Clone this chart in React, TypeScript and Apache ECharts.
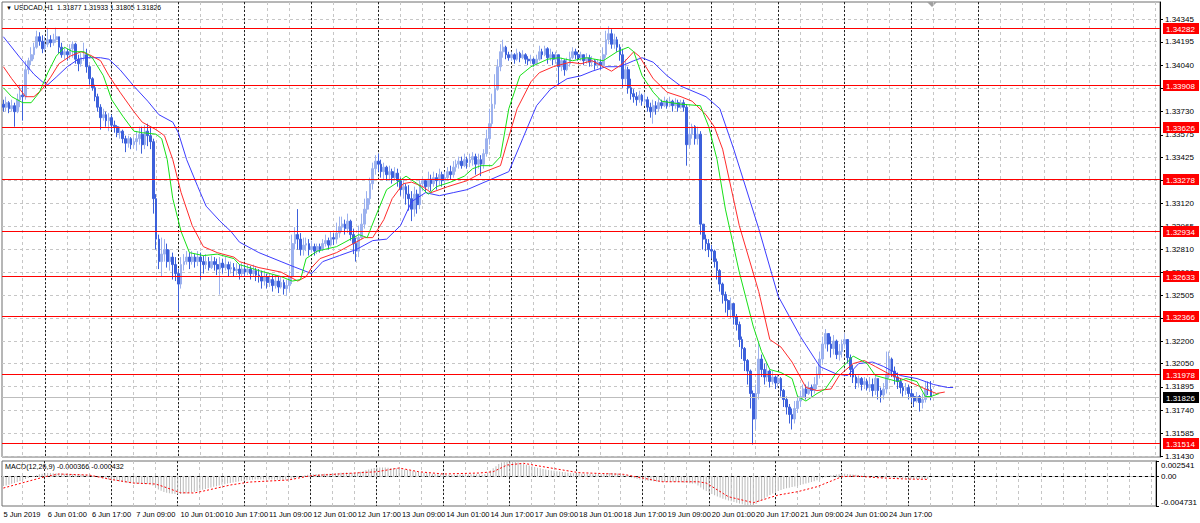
import React, { useEffect, useRef } from "react";
import * as echarts from "echarts";

const TITLE = "USDCAD,H1  1.31877 1.31933 1.31805 1.31826";
const MACD_TITLE = "MACD(12,26,9) -0.000366 -0.000432";
const FIRST_BAR_UTC = "2019-06-05T09:00:00Z";
const SLOT_COUNT = 417;
const MONTHS = ["Jan", "Feb", "Mar", "Apr", "May", "Jun", "Jul", "Aug", "Sep", "Oct", "Nov", "Dec"];

const TIME_LABELS = ["5 Jun 2019", "6 Jun 01:00", "6 Jun 17:00", "7 Jun 09:00", "10 Jun 01:00", "10 Jun 17:00", "11 Jun 09:00", "12 Jun 01:00", "12 Jun 17:00", "13 Jun 09:00", "14 Jun 01:00", "14 Jun 17:00", "17 Jun 09:00", "18 Jun 01:00", "18 Jun 17:00", "19 Jun 09:00", "20 Jun 01:00", "20 Jun 17:00", "21 Jun 09:00", "24 Jun 01:00", "24 Jun 17:00"];
const TIME_LABEL_STEP = 16;

const PRICE_TICKS = ["1.34345", "1.34195", "1.34040", "1.33885", "1.33730", "1.33575", "1.33425", "1.33270", "1.33120", "1.32965", "1.32810", "1.32660", "1.32505", "1.32350", "1.32200", "1.32050", "1.31895", "1.31740", "1.31585", "1.31430"];
const LEVELS = [1.34282, 1.33908, 1.33626, 1.33278, 1.32934, 1.32633, 1.32366, 1.31978, 1.31514];
const CURRENT_PRICE = 1.31826;

const MACD_TICKS = ["0.002541", "0.00", "-0.004731"];

// prices in pips above 1.3000
const PIP_BASE = 1.3;
const FIRST_OPEN = 378;
const CLOSE = [
  376, 379, 375, 377, 373, 381, 384, 383, 401, 407,
  411, 416, 423, 420, 415, 418, 421, 419, 421, 423,
  416, 411, 413, 411, 415, 418, 408, 405, 409, 411,
  403, 395, 389, 383, 376, 369, 371, 367, 369, 364,
  363, 359, 360, 355, 352, 355, 351, 353, 355, 358,
  351, 360, 357, 353, 315, 288, 273, 278, 281, 273,
  276, 271, 265, 258, 271, 273, 276, 273, 276, 273,
  276, 273, 271, 273, 269, 273, 271, 268, 272, 269,
  271, 268, 269, 267, 268, 265, 268, 266, 268, 265,
  267, 264, 263, 260, 263, 259, 261, 257, 260, 256,
  259, 255, 257, 263, 285, 291, 288, 281, 284, 285,
  281, 283, 280, 283, 281, 285, 287, 284, 289, 288,
  292, 296, 298, 295, 300, 291, 285, 280, 289, 298,
  308, 315, 325, 335, 340, 338, 333, 336, 331, 333,
  329, 332, 327, 321, 323, 318, 315, 308, 318, 311,
  325, 327, 323, 328, 325, 329, 327, 331, 327, 329,
  333, 331, 336, 338, 340, 337, 341, 339, 341, 343,
  338, 341, 338, 345, 355, 365, 378, 388, 403, 413,
  416, 411, 409, 411, 408, 412, 409, 411, 408, 407,
  408, 405, 408, 413, 411, 415, 409, 411, 408, 411,
  403, 407, 401, 405, 409, 413, 411, 409, 411, 407,
  409, 406, 407, 404, 406, 404, 411, 421, 425, 418,
  421, 416, 411, 395, 401, 389, 385, 383, 381, 384,
  380, 381, 376, 373, 377, 375, 379, 377, 380, 377,
  380, 377, 379, 376, 379, 376, 351, 358, 363, 355,
  358, 298, 288, 285, 281, 280, 273, 267, 258, 251,
  247, 241, 245, 236, 231, 221, 215, 207, 200, 185,
  168, 185, 208, 201, 196, 200, 193, 196, 192, 195,
  187, 181, 176, 171, 168, 175, 180, 183, 188, 185,
  189, 187, 191, 198, 208, 218, 225, 218, 215, 220,
  211, 213, 218, 221, 209, 201, 196, 192, 195, 191,
  193, 189, 191, 187, 195, 187, 184, 188, 198, 208,
  200, 196, 193, 189, 187, 189, 185, 183, 180, 183,
  179, 181, 188, 187.7, 182.6,
];
const HIGH = [
  381, 383, 380, 381, 379, 385, 391, 391, 407, 409,
  416, 419, 427, 426, 424, 423, 429, 424, 425, 429,
  423, 419, 416, 415, 418, 420, 419, 411, 412, 419,
  415, 404, 396, 391, 385, 378, 375, 373, 372, 371,
  367, 364, 363, 361, 357, 357, 356, 356, 360, 363,
  363, 364, 365, 363, 355, 318, 291, 289, 288, 285,
  281, 279, 276, 268, 276, 278, 280, 279, 280, 278,
  280, 279, 277, 278, 276, 277, 276, 275, 276, 275,
  276, 273, 273, 272, 272, 271, 272, 271, 271, 270,
  271, 269, 268, 267, 267, 265, 265, 264, 264, 263,
  263, 261, 261, 267, 291, 296, 308, 292, 289, 289,
  288, 287, 285, 285, 285, 288, 291, 289, 293, 292,
  299, 303, 303, 301, 305, 301, 295, 289, 297, 305,
  315, 320, 329, 339, 344, 345, 341, 339, 337, 337,
  335, 336, 335, 329, 328, 325, 324, 320, 323, 321,
  328, 329, 328, 333, 331, 333, 332, 335, 333, 333,
  336, 337, 340, 341, 343, 343, 345, 343, 345, 346,
  345, 345, 344, 348, 361, 375, 385, 398, 408, 418,
  421, 417, 413, 413, 412, 415, 413, 414, 412, 410,
  411, 409, 411, 417, 415, 417, 416, 415, 413, 413,
  411, 409, 408, 409, 413, 416, 415, 413, 413, 411,
  412, 411, 410, 408, 408, 408, 416, 427, 430, 428,
  425, 423, 418, 415, 408, 403, 395, 388, 386, 387,
  385, 385, 383, 379, 381, 380, 382, 381, 383, 381,
  383, 381, 382, 381, 381, 381, 378, 363, 365, 364,
  363, 360, 298, 291, 288, 284, 281, 275, 268, 259,
  253, 248, 249, 245, 238, 233, 223, 216, 208, 201,
  187, 191, 219, 211, 205, 205, 201, 200, 197, 198,
  196, 188, 183, 178, 175, 180, 184, 187, 191, 191,
  193, 191, 196, 203, 213, 223, 228, 225, 223, 224,
  221, 218, 221, 225, 221, 211, 204, 198, 197, 196,
  196, 195, 196, 195, 197, 193, 189, 192, 213, 213,
  209, 203, 199, 195, 192, 192, 191, 188, 185, 186,
  184, 185, 193, 193, 193.3,
];
const LOW = [
  373, 373, 372, 373, 363, 372, 376, 367, 381, 398,
  404, 408, 415, 417, 412, 413, 416, 416, 417, 419,
  412, 409, 408, 407, 408, 409, 405, 400, 403, 407,
  399, 391, 387, 380, 373, 361, 367, 363, 360, 361,
  359, 356, 355, 352, 346, 349, 348, 349, 347, 351,
  345, 348, 350, 348, 305, 281, 268, 263, 273, 269,
  267, 261, 260, 240, 255, 267, 271, 268, 271, 269,
  270, 261, 265, 268, 267, 268, 267, 264, 251, 265,
  267, 263, 265, 263, 264, 261, 263, 263, 264, 261,
  263, 260, 259, 255, 257, 255, 256, 253, 255, 252,
  255, 251, 250, 253, 258, 281, 281, 277, 277, 280,
  277, 279, 277, 278, 279, 280, 283, 281, 283, 284,
  285, 289, 293, 291, 292, 287, 278, 273, 276, 288,
  295, 305, 311, 321, 331, 333, 329, 328, 327, 327,
  325, 328, 323, 317, 315, 311, 307, 300, 303, 305,
  308, 320, 319, 321, 320, 323, 321, 324, 323, 324,
  327, 328, 329, 333, 335, 335, 336, 335, 336, 337,
  331, 335, 330, 335, 343, 351, 363, 375, 387, 400,
  409, 408, 407, 407, 405, 407, 406, 408, 405, 404,
  405, 403, 405, 407, 408, 410, 405, 407, 404, 405,
  391, 400, 397, 400, 403, 408, 408, 407, 407, 404,
  405, 403, 403, 401, 402, 401, 403, 409, 418, 415,
  415, 413, 407, 389, 391, 385, 381, 379, 377, 379,
  377, 378, 373, 369, 365, 371, 373, 375, 376, 375,
  376, 373, 375, 373, 375, 373, 337, 349, 355, 351,
  351, 291, 281, 280, 276, 275, 269, 261, 253, 245,
  239, 236, 235, 231, 227, 216, 208, 200, 191, 175,
  151, 161, 181, 196, 191, 193, 189, 191, 188, 189,
  183, 176, 171, 165, 161, 165, 172, 176, 181, 181,
  184, 183, 185, 188, 195, 205, 215, 213, 209, 211,
  208, 207, 209, 215, 205, 196, 192, 188, 189, 187,
  188, 187, 186, 183, 184, 181, 179, 181, 185, 195,
  196, 191, 188, 185, 183, 184, 181, 179, 176, 179,
  173, 175, 179, 184, 180.5,
];

// Alligator lines: [bar index, pips above 1.3000]
const JAW = [[0, 423], [6, 409], [11, 398], [14, 393], [16, 391], [19, 396], [23, 403], [27, 408], [30, 409], [35, 409], [38, 408], [42, 401], [47, 390], [52, 380], [56, 371], [61, 366], [63, 359], [66, 341], [70, 323], [73, 310], [78, 300], [82, 293], [85, 286], [92, 279], [100, 273], [104, 270], [111, 265], [115, 273], [121, 277], [127, 281], [133, 287], [138, 288], [143, 297], [147, 313], [152, 319], [157, 317], [162, 319], [167, 321], [172, 325], [182, 333], [187, 355], [192, 377], [197, 388], [203, 395], [208, 397], [212, 400], [217, 403], [222, 403], [227, 407], [230, 409], [234, 406], [239, 397], [244, 390], [253, 383], [258, 375], [263, 348], [272, 295], [279, 250], [287, 223], [294, 203], [300, 198], [304, 197], [308, 205], [313, 206], [317, 203], [323, 197], [329, 195], [335, 191], [340, 189], [342, 189]];
const TEETH = [[0, 403], [3, 395], [8, 383], [11, 383], [14, 388], [17, 396], [20, 405], [24, 410], [28, 413], [31, 411], [35, 407], [38, 397], [42, 386], [47, 373], [50, 366], [55, 361], [58, 357], [61, 341], [64, 319], [68, 297], [72, 283], [77, 279], [83, 276], [85, 273], [92, 269], [100, 266], [106, 260], [109, 263], [111, 269], [114, 275], [120, 279], [126, 285], [130, 289], [133, 289], [137, 301], [140, 315], [144, 325], [147, 326], [151, 323], [154, 319], [160, 323], [167, 327], [172, 332], [179, 337], [181, 350], [185, 375], [190, 393], [193, 399], [198, 403], [204, 406], [208, 405], [212, 407], [219, 400], [223, 405], [227, 413], [229, 410], [234, 395], [239, 386], [244, 383], [248, 380], [253, 371], [256, 363], [259, 348], [265, 297], [272, 253], [276, 221], [280, 216], [284, 206], [289, 189], [293, 187], [298, 188], [301, 197], [306, 205], [310, 207], [314, 203], [320, 197], [326, 193], [332, 188], [336, 185], [339, 186]];
const LIPS = [[0, 389], [3, 383], [7, 379], [10, 379], [13, 386], [16, 399], [19, 410], [22, 416], [25, 413], [29, 413], [32, 409], [36, 397], [39, 381], [43, 370], [47, 360], [50, 359], [55, 358], [57, 355], [59, 341], [61, 315], [64, 293], [67, 279], [72, 277], [77, 278], [83, 275], [85, 271], [92, 267], [100, 263], [104, 260], [107, 261], [109, 275], [113, 280], [120, 283], [125, 288], [128, 291], [131, 289], [134, 303], [138, 321], [142, 326], [145, 330], [149, 325], [153, 318], [156, 323], [161, 326], [166, 330], [169, 335], [172, 337], [176, 337], [179, 343], [182, 375], [186, 397], [190, 403], [196, 408], [200, 409], [205, 407], [210, 409], [216, 407], [221, 413], [225, 416], [227, 413], [230, 397], [234, 386], [237, 380], [244, 378], [251, 377], [254, 363], [257, 341], [260, 308], [265, 266], [270, 230], [273, 213], [276, 201], [280, 199], [284, 195], [286, 183], [289, 180], [293, 185], [296, 188], [300, 199], [304, 206], [306, 210], [311, 205], [314, 197], [318, 195], [322, 193], [325, 195], [329, 193], [332, 183], [334, 183], [337, 185]];

// MACD histogram per bar, in 1e-5
const MACD_MAIN = [
  -150, -140, -128, -114, -100, -86, -70, -55, -38, -20, -5, 10, 25, 38, 48, 55,
  60, 60, 58, 56, 54, 52, 50, 47, 44, 42, 40, 37, 34, 30, 26, 20, 14, 6, -4, -14,
  -24, -34, -44, -52, -60, -68, -76, -84, -92, -98, -104, -108, -112, -114, -116, -116, -116, -118,
  -140, -175, -205, -228, -245, -258, -268, -275, -280, -282, -280, -276, -270, -262, -254, -245, -235,
  -224, -212, -200, -188, -176, -164, -152, -141, -130, -120, -110, -101, -92, -84, -77, -70, -64, -58, -53, -49, -46, -44,
  -43, -43, -44, -45, -46, -47, -48, -48, -49, -50, -50, -45, -30,
  -14, 0, 12, 22, 30, 36, 40, 43, 45, 46, 47, 48, 50, 52, 56, 60, 64, 66, 68, 66, 62, 64, 70, 80, 92, 105, 118, 130, 140, 146, 150, 150, 148, 145, 141, 137, 133,
  128, 122, 115, 108, 100, 92, 85, 78, 72, 66, 60, 55, 50, 46, 42, 39, 36, 34, 33, 32, 32, 33, 34, 35, 36, 37, 38, 38, 38, 38,
  30, 45, 70, 100, 135, 170, 205, 230, 245, 254, 252, 246, 238, 228, 216, 204, 192, 180, 168, 156, 146, 136, 126, 118, 110, 102, 96, 90, 84, 78, 72, 66, 62, 58, 55, 52, 50, 48, 46, 44, 42, 40, 38,
  40, 48, 56, 60, 60, 58, 52, 40, 30, 18, 6,
  -12, -24, -35, -45, -53, -60, -66, -71, -75, -78, -80, -82, -83, -84, -84, -84, -84, -84, -90, -96, -102, -106, -108, -108,
  -140, -175, -205, -232, -256, -278, -298, -318, -337, -354, -370, -384, -397, -410, -422, -434, -445, -455, -463, -470, -473,
  -440, -410, -380, -350, -322, -296, -272, -250, -230, -214, -200, -188, -178, -168, -158, -146, -134, -122, -110, -98, -86, -72, -56, -40,
  -24, -8, 6, 18, 28, 36, 42, 46, 48, 46, 42, 36, 30, 24, 18, 12, 8, 4, 0, -4, -8, -12, -12, -8, -6, -8, -12, -16, -20, -24, -28, -30, -33, -35, -36, -37, -37, -37, -36.6,
];
// MACD signal: [bar index, value in 1e-5]
const MACD_SIGNAL = [[0, -183], [15, 0], [20, 44], [31, 27], [38, -37], [47, -102], [55, -118], [58, -162], [64, -259], [69, -263], [74, -215], [82, -134], [89, -86], [103, -53], [111, 16], [121, 44], [135, 81], [143, 141], [150, 81], [159, 44], [172, 60], [177, 81], [182, 189], [188, 217], [195, 162], [208, 65], [224, 39], [231, -21], [238, -81], [251, -81], [254, -102], [262, -323], [271, -420], [280, -296], [287, -242], [294, -162], [303, 0], [308, 11], [316, -16], [326, -37], [334, -43]];

const FONT = "Liberation Sans";
const FS_AXIS = 8;
const FS_TIME = 7.5;
const FS_TITLE = 6.8;
const FS_MACD_TITLE = 7.2;

function toPrice(p: number) {
  return +(PIP_BASE + p / 10000).toFixed(5);
}

function buildSlots() {
  const names: string[] = [];
  const hours: number[] = [];
  let t = Date.parse(FIRST_BAR_UTC);
  while (names.length < SLOT_COUNT) {
    const d = new Date(t);
    const wd = d.getUTCDay();
    if (wd !== 0 && wd !== 6) {
      const h = d.getUTCHours();
      names.push(`${d.getUTCDate()} ${MONTHS[d.getUTCMonth()]} ${String(h).padStart(2, "0")}:00`);
      hours.push(h);
    }
    t += 3600000;
  }
  return { names, hours };
}

const crisp = (v: number) => Math.round(v - 0.5) + 0.5;

// horizontal lines across a grid, at given axis values
function hLineSeries(axis: number, values: number[], stroke: string, dash: number[] | null, z: number, box?: { fill: string }) {
  return {
    type: "custom",
    xAxisIndex: axis,
    yAxisIndex: axis,
    data: values.map((v) => [0, v]),
    silent: true,
    z,
    clip: false,
    renderItem: (params: any, api: any) => {
      const cs = params.coordSys;
      const v = api.value(1);
      const y = crisp(api.coord([0, v])[1]);
      const children: any[] = [
        {
          type: "line",
          shape: { x1: cs.x, y1: y, x2: cs.x + cs.width, y2: y },
          style: { stroke, lineWidth: 1, lineDash: dash || undefined },
        },
      ];
      if (box) {
        const x0 = cs.x + cs.width + 3;
        children.push({
          type: "rect",
          shape: { x: x0, y: Math.round(y - 5.5), width: 36, height: 11 },
          style: { fill: box.fill },
        });
        children.push({
          type: "text",
          style: {
            text: Number(v).toFixed(5),
            x: x0 + 3,
            y: y + 0.5,
            verticalAlign: "middle",
            align: "left",
            fill: "#ffffff",
            fontSize: FS_AXIS,
            fontFamily: FONT,
          },
        });
      }
      return { type: "group", children };
    },
  };
}

// vertical lines through a grid, at given category indices
function vLineSeries(axis: number, indices: number[], yRef: number, stroke: string, dash: number[], z: number) {
  return {
    type: "custom",
    xAxisIndex: axis,
    yAxisIndex: axis,
    data: indices.map((i) => [i, yRef]),
    silent: true,
    z,
    clip: false,
    renderItem: (params: any, api: any) => {
      const cs = params.coordSys;
      const x = crisp(api.coord([api.value(0), yRef])[0]);
      return {
        type: "line",
        shape: { x1: x, y1: cs.y, x2: x, y2: cs.y + cs.height },
        style: { stroke, lineWidth: 1, lineDash: dash },
      };
    },
  };
}

export default function App() {
  const ref = useRef<HTMLDivElement>(null);

  useEffect(() => {
    document.body.style.margin = "0";
    if (!ref.current) return;
    const chart = echarts.init(ref.current, null, { renderer: "svg" });

    const { names, hours } = buildSlots();
    const lastBar = CLOSE.length - 1;

    const candles = CLOSE.map((c, i) => {
      const o = i === 0 ? FIRST_OPEN : CLOSE[i - 1];
      const h = Math.max(HIGH[i], o, c);
      const l = Math.min(LOW[i], o, c);
      return [toPrice(o), toPrice(c), toPrice(l), toPrice(h)];
    });

    const gridIdx: number[] = [];
    const sepIdx: number[] = [];
    hours.forEach((h, i) => {
      if (h % 8 === 0) gridIdx.push(i);
      if (h === 0 && i < 360) sepIdx.push(i);
    });
    const priceTickValues = PRICE_TICKS.map(Number);
    const macdVals = MACD_TICKS.map(Number);
    const macdMax = Math.max(...macdVals);
    const macdMin = Math.min(...macdVals);
    const priceMin = 1.314266;
    const priceMax = 1.344617;

    const maLine = (pts: number[][], color: string) => ({
      type: "line",
      xAxisIndex: 0,
      yAxisIndex: 0,
      data: pts.map(([i, p]) => [i, toPrice(p)]),
      showSymbol: false,
      symbol: "none",
      lineStyle: { color, width: 1 },
      silent: true,
      z: 3,
    });

    const GRAY = "#c6c6c6";
    const SEP = "#222222";

    const option: any = {
      animation: false,
      backgroundColor: "#ffffff",
      textStyle: { fontFamily: FONT },
      grid: [
        { left: 2, right: 40, top: 2, height: 455, show: true, borderColor: "#6e6e6e", borderWidth: 1, backgroundColor: "transparent" },
        { left: 2, right: 40, top: 461, height: 45, show: true, borderColor: "#6e6e6e", borderWidth: 1, backgroundColor: "transparent" },
      ],
      xAxis: [
        {
          type: "category",
          gridIndex: 0,
          data: names,
          boundaryGap: true,
          axisLine: { show: false },
          axisTick: { show: false },
          axisLabel: { show: false },
          splitLine: { show: false },
        },
        {
          type: "category",
          gridIndex: 1,
          data: names,
          boundaryGap: true,
          axisLine: { show: true, lineStyle: { color: "#000" } },
          axisTick: { show: false },
          axisLabel: {
            interval: (i: number) => i % TIME_LABEL_STEP === 0 && i / TIME_LABEL_STEP < TIME_LABELS.length && i <= lastBar,
            formatter: (_v: string, i: number) => TIME_LABELS[i / TIME_LABEL_STEP] ?? "",
            align: "left",
            color: "#000",
            fontSize: FS_TIME,
            fontFamily: FONT,
            margin: 4,
            hideOverlap: false,
          },
          splitLine: { show: false },
        },
      ],
      yAxis: [
        {
          type: "value",
          gridIndex: 0,
          position: "right",
          min: priceMin,
          max: priceMax,
          axisLine: { show: true, lineStyle: { color: "#000" } },
          axisTick: { show: true, length: 3, customValues: priceTickValues, lineStyle: { color: "#000" } },
          axisLabel: {
            customValues: priceTickValues,
            formatter: (v: number) => v.toFixed(5),
            color: "#000",
            fontSize: FS_AXIS,
            fontFamily: FONT,
            margin: 5,
            showMinLabel: true,
            showMaxLabel: true,
          },
          splitLine: { show: false },
        },
        {
          type: "value",
          gridIndex: 1,
          position: "right",
          min: macdMin,
          max: macdMax,
          axisLine: { show: true, lineStyle: { color: "#000" } },
          axisTick: { show: true, length: 3, customValues: macdVals, lineStyle: { color: "#000" } },
          axisLabel: {
            customValues: macdVals,
            formatter: (v: number) => MACD_TICKS.find((t) => Math.abs(Number(t) - v) < 1e-9) ?? "",
            color: "#000",
            fontSize: FS_AXIS,
            fontFamily: FONT,
            margin: 5,
            showMinLabel: true,
            showMaxLabel: true,
            verticalAlignMinLabel: "top",
            verticalAlignMaxLabel: "bottom",
          },
          splitLine: { show: false },
        },
      ],
      series: [
        hLineSeries(0, priceTickValues, GRAY, [3, 3], 1),
        vLineSeries(0, gridIdx, priceMin, GRAY, [3, 3], 1),
        vLineSeries(0, sepIdx, priceMin, SEP, [2, 2], 1),
        hLineSeries(1, [0], GRAY, [3, 3], 1),
        vLineSeries(1, gridIdx, 0, GRAY, [3, 3], 1),
        vLineSeries(1, sepIdx, 0, SEP, [2, 2], 1),
        {
          type: "candlestick",
          xAxisIndex: 0,
          yAxisIndex: 0,
          data: candles,
          barWidth: 2.2,
          silent: true,
          z: 2,
          itemStyle: {
            color: "#9cb1ee",
            color0: "#3c60db",
            borderColor: "#9cb1ee",
            borderColor0: "#3c60db",
            borderWidth: 1,
          },
        },
        maLine(JAW, "#3c3cff"),
        maLine(TEETH, "#ff2b2b"),
        maLine(LIPS, "#17e017"),
        hLineSeries(0, [CURRENT_PRICE], "#bdbdbd", null, 4, { fill: "#000000" }),
        hLineSeries(0, LEVELS, "#ff0000", null, 5, { fill: "#ff0000" }),
        {
          type: "bar",
          xAxisIndex: 1,
          yAxisIndex: 1,
          data: MACD_MAIN.map((v) => v / 100000),
          barWidth: 1,
          silent: true,
          itemStyle: { color: "#bababa" },
          z: 2,
        },
        {
          type: "line",
          xAxisIndex: 1,
          yAxisIndex: 1,
          data: MACD_SIGNAL.map(([i, v]) => [i, v / 100000]),
          showSymbol: false,
          symbol: "none",
          silent: true,
          z: 3,
          lineStyle: { color: "#ff0000", width: 1, type: [2, 2] },
        },
      ],
      graphic: [
        { type: "text", left: 6, top: 5, style: { text: "▼", fontSize: 6, fill: "#000" } },
        { type: "text", left: 14, top: 4, style: { text: TITLE, fontSize: FS_TITLE, fontFamily: FONT, fill: "#000" } },
        { type: "text", left: 5, top: 463, style: { text: MACD_TITLE, fontSize: FS_MACD_TITLE, fontFamily: FONT, fill: "#000" } },
        { type: "polygon", shape: { points: [[927, 2], [937, 2], [932, 7]] }, style: { fill: "#a0a0a0" } },
      ],
    };

    chart.setOption(option);
    return () => chart.dispose();
  }, []);

  return <div ref={ref} style={{ position: "absolute", left: 0, top: 0, width: 1200, height: 523 }} />;
}
